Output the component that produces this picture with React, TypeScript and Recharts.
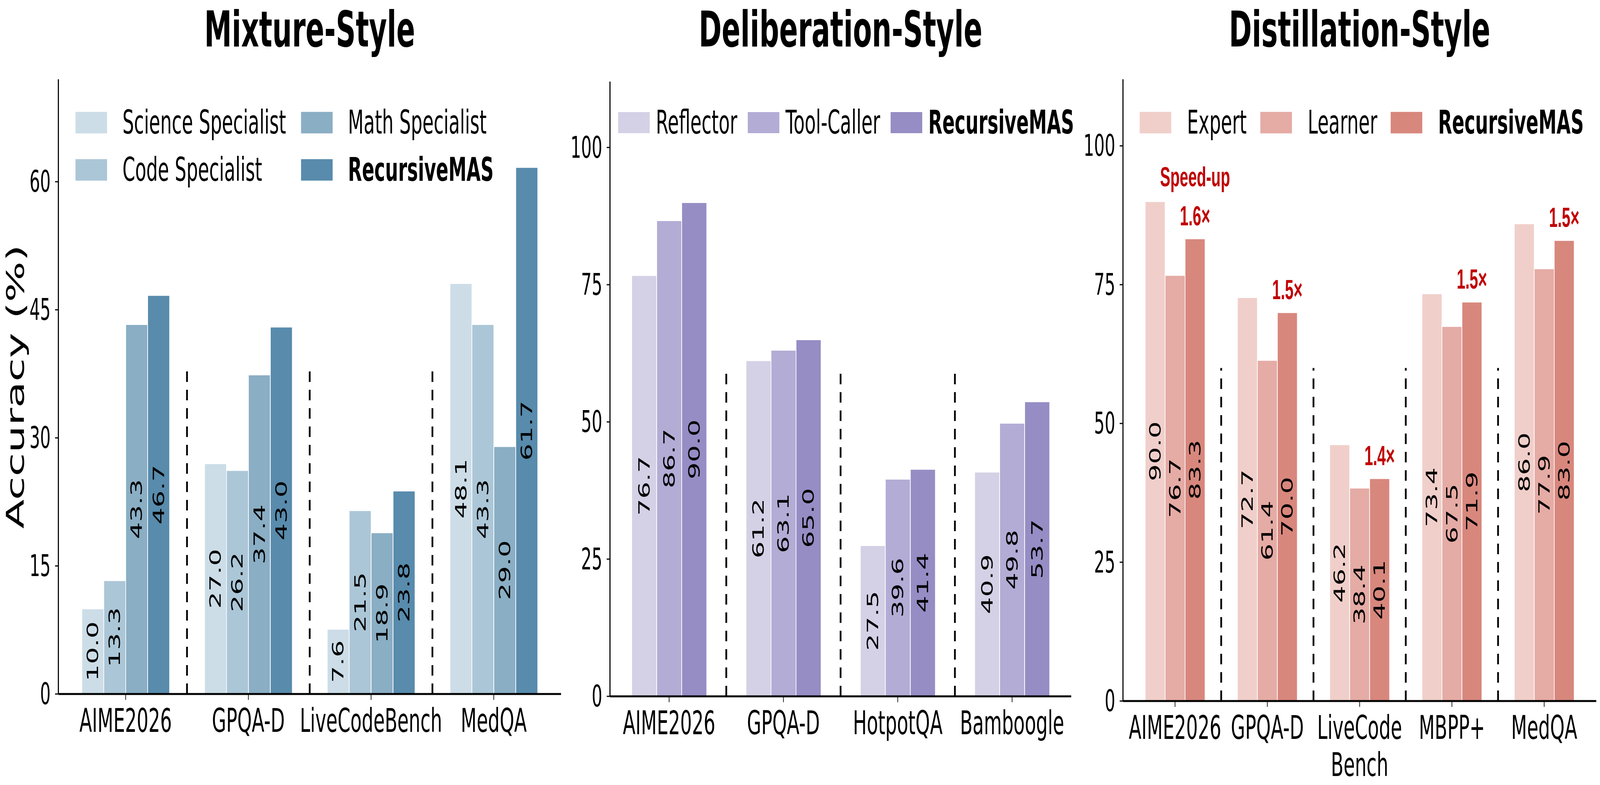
import React from 'react';
import { BarChart, Bar, XAxis, YAxis, ReferenceLine, LabelList } from 'recharts';

const FONT = '"DejaVu Sans", sans-serif';
const FIG_W = 7292;
const FIG_H = 2010;

// Mixture-Style
const mixCategories = ['AIME2026', 'GPQA-D', 'LiveCodeBench', 'MedQA'];
const mixScience = [10.0, 27.0, 7.6, 48.1];
const mixCode = [13.3, 26.2, 21.5, 43.3];
const mixMath = [43.3, 37.4, 18.9, 29.0];
const mixRecursive = [46.7, 43.0, 23.8, 61.7];
const mixTicks = [0, 15, 30, 45, 60];

// Deliberation-Style
const delCategories = ['AIME2026', 'GPQA-D', 'HotpotQA', 'Bamboogle'];
const delReflector = [76.7, 61.2, 27.5, 40.9];
const delToolCaller = [86.7, 63.1, 39.6, 49.8];
const delRecursive = [90.0, 65.0, 41.4, 53.7];
const delTicks = [0, 25, 50, 75, 100];

// Distillation-Style
const disCategories = ['AIME2026', 'GPQA-D', 'LiveCode\nBench', 'MBPP+', 'MedQA'];
const disExpert = [90.0, 72.7, 46.2, 73.4, 86.0];
const disLearner = [76.7, 61.4, 38.4, 67.5, 77.9];
const disRecursive = [83.3, 70.0, 40.1, 71.9, 83.0];
const disSpeedup = ['1.6×', '1.5×', '1.4×', '1.5×', '1.5×'];
const disTicks = [0, 25, 50, 75, 100];

type Series = { key: string; name: string; color: string; values: number[]; bold?: boolean };
type LegendPos = { x: number; y: number };

const buildRows = (cats: string[], series: Series[]) =>
  cats.map((c, i) => {
    const row: Record<string, any> = { name: c };
    series.forEach(s => { row[s.key] = s.values[i]; });
    return row;
  });

const ValueLabel = (props: any) => {
  const vb = props.viewBox ?? props;
  const x = Number(props.x ?? vb.x);
  const y = Number(props.y ?? vb.y);
  const w = Number(props.width ?? vb.width);
  const h = Number(props.height ?? vb.height);
  const cx = x + w / 2;
  const cy = y + h / 2;
  return (
    <text
      x={cx}
      y={cy}
      transform={`rotate(-90 ${cx} ${cy})`}
      textAnchor="middle"
      dominantBaseline="central"
      fontFamily={FONT}
      fontSize={69}
      fill="#000"
    >
      {Number(props.value).toFixed(1)}
    </text>
  );
};

const SpeedLabel = (props: any) => {
  const vb = props.viewBox ?? props;
  const x = Number(props.x ?? vb.x);
  const y = Number(props.y ?? vb.y);
  const w = Number(props.width ?? vb.width);
  const cx = x + w / 2;
  const style = { fontFamily: '"Liberation Sans", Arial, sans-serif', fontWeight: 700, fontSize: 70, fill: '#c00000' };
  return (
    <g>
      {props.index === 0 && (
        <text x={cx} y={y - 158} textAnchor="middle" dominantBaseline="central" style={style}>
          Speed-up
        </text>
      )}
      <text x={cx} y={y - 58} textAnchor="middle" dominantBaseline="central" style={style}>
        {disSpeedup[props.index]}
      </text>
    </g>
  );
};

const XTick = (props: any) => {
  const { x, y, payload } = props;
  const lines = String(payload.value).split('\n');
  return (
    <text x={x} y={y} textAnchor="middle" fontFamily={FONT} fontSize={84} fill="#000">
      {lines.map((l, i) => (
        <tspan key={i} x={x} dy={i === 0 ? '0.71em' : '1.14em'}>{l}</tspan>
      ))}
    </text>
  );
};

const YTick = (props: any) => {
  const { x, y, payload } = props;
  return (
    <text x={x} y={y} textAnchor="end" dominantBaseline="central" fontFamily={FONT} fontSize={76} fill="#000">
      {payload.value}
    </text>
  );
};

interface PanelProps {
  title: string;
  left: number;
  width: number;
  top: number;
  yAxisWidth: number;
  right: number;
  xAxisHeight: number;
  yMax: number;
  ticks: number[];
  categories: string[];
  series: Series[];
  barSize: number;
  pad: number;
  dashTop: number;
  legend: LegendPos[];
  swatchW: number;
  swatchH: number;
  textGap: number;
  yLabel?: string;
  speedup?: boolean;
}

const Panel: React.FC<PanelProps> = p => {
  const data = buildRows(p.categories, p.series);
  const plotCenter = (p.yAxisWidth + (p.width - p.right)) / 2;
  const plotMid = (p.top + (FIG_H - p.xAxisHeight)) / 2;
  return (
    <div style={{ position: 'absolute', left: p.left, top: 0, width: p.width, height: FIG_H }}>
      <BarChart
        width={p.width}
        height={FIG_H}
        data={data}
        margin={{ top: p.top, right: p.right, bottom: 0, left: 0 }}
        barGap={0}
        barSize={p.barSize}
      >
        <XAxis
          dataKey="name"
          interval={0}
          height={p.xAxisHeight}
          padding={{ left: p.pad, right: p.pad }}
          tickSize={15}
          tickMargin={22}
          axisLine={{ stroke: '#000', strokeWidth: 5 }}
          tickLine={{ stroke: '#000', strokeWidth: 3 }}
          tick={<XTick />}
        />
        <YAxis
          width={p.yAxisWidth}
          domain={[0, p.yMax]}
          ticks={p.ticks}
          allowDataOverflow
          tickSize={15}
          tickMargin={20}
          axisLine={{ stroke: '#000', strokeWidth: 5 }}
          tickLine={{ stroke: '#000', strokeWidth: 3 }}
          tick={<YTick />}
        />
        {p.categories.slice(1).map(c => (
          <ReferenceLine
            key={c}
            segment={[{ x: c, y: 0 }, { x: c, y: p.dashTop }]}
            position="start"
            stroke="#000"
            strokeWidth={8}
            strokeDasharray="27 20"
            ifOverflow="visible"
          />
        ))}
        {p.series.map((s, si) => (
          <Bar key={s.key} dataKey={s.key} name={s.name} fill={s.color} stroke="#fff" strokeWidth={3} isAnimationActive={false}>
            <LabelList dataKey={s.key} content={<ValueLabel />} />
            {p.speedup && si === p.series.length - 1 && <LabelList dataKey={s.key} content={<SpeedLabel />} />}
          </Bar>
        ))}
      </BarChart>
      <svg
        width={p.width}
        height={FIG_H}
        style={{ position: 'absolute', left: 0, top: 0, pointerEvents: 'none', overflow: 'visible' }}
      >
        <text x={plotCenter} y={119} textAnchor="middle" fontFamily={FONT} fontWeight={700} fontSize={126} fill="#000">
          {p.title}
        </text>
        {p.yLabel && (
          <text
            x={70}
            y={plotMid}
            transform={`rotate(-90 70 ${plotMid})`}
            textAnchor="middle"
            dominantBaseline="central"
            fontFamily={FONT}
            fontSize={110}
            fill="#000"
          >
            {p.yLabel}
          </text>
        )}
        {p.series.map((s, i) => {
          const pos = p.legend[i];
          return (
            <g key={s.key}>
              <rect x={pos.x} y={pos.y - p.swatchH / 2} width={p.swatchW} height={p.swatchH} fill={s.color} />
              <text
                x={pos.x + p.textGap}
                y={pos.y}
                dominantBaseline="central"
                fontFamily={FONT}
                fontWeight={s.bold ? 700 : 400}
                fontSize={83}
                fill="#000"
              >
                {s.name}
              </text>
            </g>
          );
        })}
      </svg>
    </div>
  );
};

const mixSeries: Series[] = [
  { key: 'science', name: 'Science Specialist', color: '#ccdde7', values: mixScience },
  { key: 'code', name: 'Code Specialist', color: '#abc6d7', values: mixCode },
  { key: 'math', name: 'Math Specialist', color: '#8aaec4', values: mixMath },
  { key: 'rec', name: 'RecursiveMAS', color: '#588bac', values: mixRecursive, bold: true },
];

const delSeries: Series[] = [
  { key: 'refl', name: 'Reflector', color: '#d4d1e6', values: delReflector },
  { key: 'tool', name: 'Tool-Caller', color: '#b3acd5', values: delToolCaller },
  { key: 'rec', name: 'RecursiveMAS', color: '#958dc4', values: delRecursive, bold: true },
];

const disSeries: Series[] = [
  { key: 'expert', name: 'Expert', color: '#f0cfca', values: disExpert },
  { key: 'learner', name: 'Learner', color: '#e5aba5', values: disLearner },
  { key: 'rec', name: 'RecursiveMAS', color: '#d8877d', values: disRecursive, bold: true },
];

export default function App() {
  // the browser window may be narrower than the figure; fit the whole figure into it
  const sx = Math.min(1, (window.innerWidth || FIG_W) / FIG_W);
  const sy = Math.min(1, (window.innerHeight || FIG_H) / FIG_H);
  return (
    <div
      style={{
        position: 'absolute',
        left: 0,
        top: 0,
        width: FIG_W,
        height: FIG_H,
        background: '#fff',
        overflow: 'hidden',
        transform: `scale(${sx}, ${sy})`,
        transformOrigin: '0 0',
      }}
    >
      <Panel
        title="Mixture-Style"
        left={0}
        width={2600}
        top={203}
        yAxisWidth={266}
        right={43}
        xAxisHeight={233}
        yMax={72}
        ticks={mixTicks}
        categories={mixCategories}
        series={mixSeries}
        barSize={100}
        pad={27}
        dashTop={38.5}
        legend={[{ x: 344, y: 314 }, { x: 344, y: 435 }, { x: 1372, y: 314 }, { x: 1372, y: 435 }]}
        swatchW={144}
        swatchH={55}
        textGap={214}
        yLabel="Accuracy (%)"
      />
      <Panel
        title="Deliberation-Style"
        left={2560}
        width={2390}
        top={209}
        yAxisWidth={220}
        right={68}
        xAxisHeight={227}
        yMax={112}
        ticks={delTicks}
        categories={delCategories}
        series={delSeries}
        barSize={114}
        pad={9}
        dashTop={60}
        legend={[{ x: 257, y: 314 }, { x: 848, y: 314 }, { x: 1499, y: 314 }]}
        swatchW={144}
        swatchH={54}
        textGap={172}
      />
      <Panel
        title="Distillation-Style"
        left={4890}
        width={2402}
        top={203}
        yAxisWidth={228}
        right={17}
        xAxisHeight={215}
        yMax={112}
        ticks={disTicks}
        categories={disCategories}
        series={disSeries}
        barSize={91}
        pad={27}
        dashTop={60}
        legend={[{ x: 304, y: 314 }, { x: 854, y: 314 }, { x: 1448, y: 314 }]}
        swatchW={144}
        swatchH={55}
        textGap={216}
        speedup
      />
    </div>
  );
}
